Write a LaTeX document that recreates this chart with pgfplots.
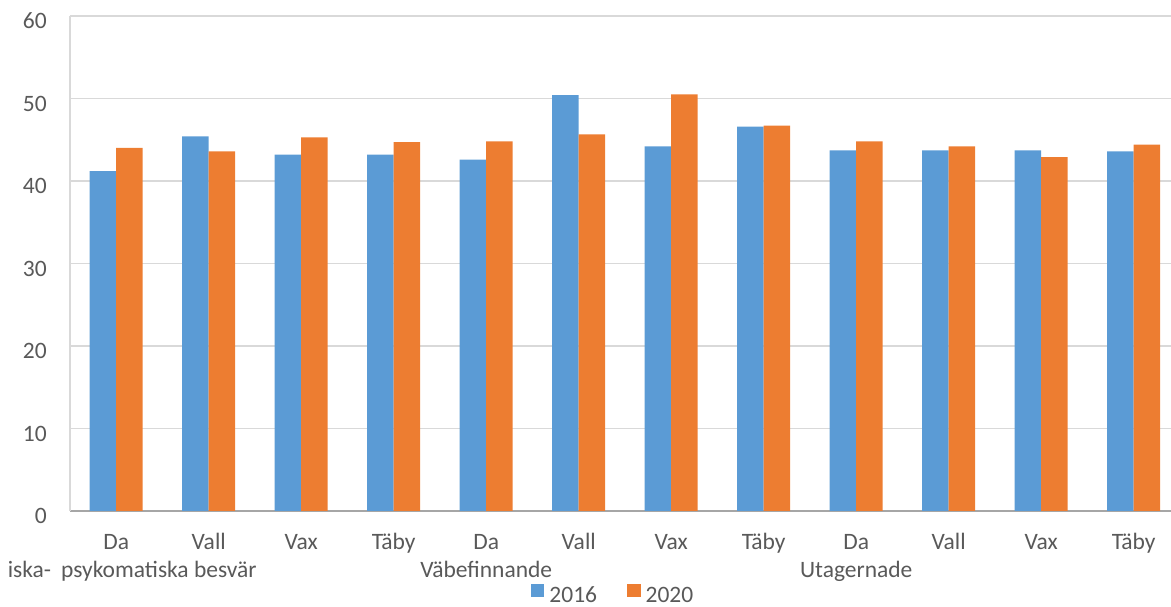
\documentclass[border=0pt]{standalone}
\usepackage{fontspec}
\setmainfont{Carlito}
\usepackage{pgfplots}
\pgfplotsset{compat=1.18}
\definecolor{c16}{HTML}{5B9BD5}
\definecolor{c20}{HTML}{ED7D31}
\definecolor{gridc}{HTML}{D9D9D9}
\definecolor{axisc}{HTML}{A6A6A6}
\definecolor{txt}{HTML}{595959}
\begin{document}
\fontsize{23.5}{28}\selectfont
\begin{tikzpicture}[x=1pt,y=1pt]
\begin{axis}[
  at={(70pt,96pt)}, anchor=south west,
  scale only axis, width=1110pt, height=495pt,
  xmin=-0.5, xmax=11.5, ymin=0, ymax=60,
  ytick={0,10,...,60},
  xtick={0,...,11},
  xticklabels={Da,Vall,Vax,Täby,Da,Vall,Vax,Täby,Da,Vall,Vax,Täby},
  extra x ticks={0,4,8},
  extra x tick labels={\hspace*{32pt}iska-\hspace{10pt}psykomatiska besvär,Väbefinnande,Utagernade},
  extra x tick style={grid=none, xticklabel style={yshift=-28pt}},
  ymajorgrids, grid style={gridc, line width=1.5pt},
  axis x line*=bottom, axis y line*=left,
  x axis line style={axisc, line width=2pt, -},
  y axis line style={gridc, line width=1.5pt, -},
  major tick length=0pt, tick style={draw=none},
  ybar=0pt, bar width=26.5pt,
  tick label style={font=\fontsize{23.5}{28}\selectfont, text=txt, inner sep=0pt},
  xticklabel style={anchor=base, yshift=-39pt},
  yticklabel style={anchor=base east, xshift=-23pt, yshift=-13pt},
  /pgf/number format/assume math mode=true,
  legend columns=2,
  legend style={at={(0.4153,-0.1919)}, anchor=south west, draw=none, fill=none,
    inner sep=0pt, outer sep=0pt, font=\fontsize{23.5}{28}\selectfont, text=txt,
    nodes={inner sep=0pt, outer sep=0pt},
    /tikz/every odd column/.append style={column sep=5pt},
    /tikz/every even column/.append style={column sep=30pt}},
  legend image code/.code={\fill[#1] (0pt,-1pt) rectangle (13.5pt,12.5pt);},
]
\addplot[fill=c16, draw=none] coordinates {(0,41.2) (1,45.4) (2,43.2) (3,43.2) (4,42.6) (5,50.4) (6,44.2) (7,46.6) (8,43.7) (9,43.7) (10,43.7) (11,43.6)};
\addplot[fill=c20, draw=none] coordinates {(0,44.0) (1,43.6) (2,45.3) (3,44.7) (4,44.8) (5,45.65) (6,50.5) (7,46.7) (8,44.8) (9,44.2) (10,42.9) (11,44.4)};
\legend{2016,2020}
\end{axis}
\pgfresetboundingbox
\useasboundingbox (0,0) rectangle (1171,607);
\end{tikzpicture}
\end{document}
